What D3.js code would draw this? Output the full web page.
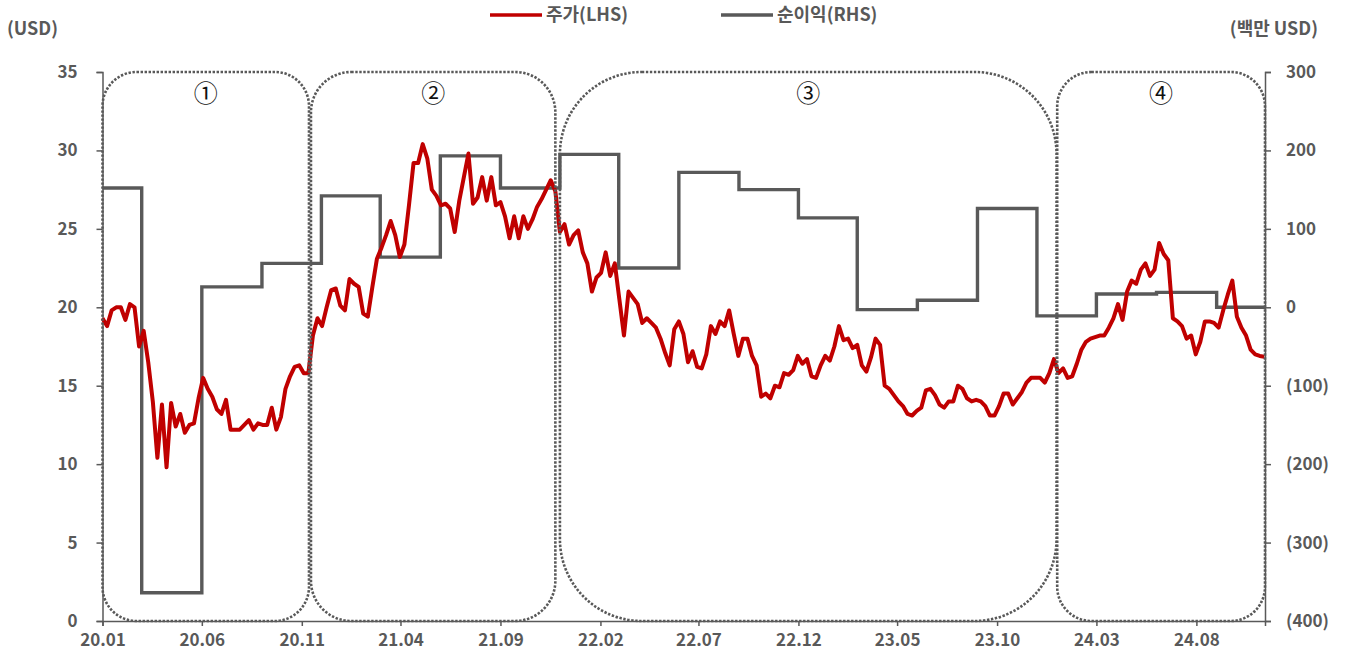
<!DOCTYPE html>
<html><head><meta charset="utf-8">
<script src="https://cdn.jsdelivr.net/npm/d3@7"></script>
<style>
body{margin:0;background:#fff;}
svg text{font-family:"Noto Sans CJK KR","Noto Sans",sans-serif;}
</style></head><body>
<svg id="chart" width="1352" height="659"></svg>
<script>
// ---- data ----
const priceStart = "2020-01-01";          // weekly closes (USD), one per 7 days
const weeklyPrice = [
19.3,18.8,19.8,20.0,20.0,19.2,20.2,20.0,17.5,18.5,
16.5,14.0,10.4,13.8,9.8,13.9,12.4,13.2,12.0,12.5,
12.6,14.2,15.5,14.8,14.3,13.5,13.2,14.1,12.2,12.2,
12.2,12.5,12.8,12.2,12.6,12.5,12.5,13.6,12.2,13.0,
14.8,15.6,16.2,16.3,15.8,15.8,18.2,19.3,18.8,20.0,
21.1,21.2,20.1,19.8,21.8,21.5,21.3,19.6,19.4,21.3,
23.1,23.8,24.6,25.5,24.6,23.2,24.0,26.5,29.2,29.2,
30.4,29.5,27.5,27.1,26.5,26.6,26.3,24.8,26.8,28.3,
29.8,26.6,27.0,28.3,26.8,28.3,26.5,26.7,25.8,
24.4,25.8,24.4,25.8,25.0,25.6,26.4,26.9,27.5,28.1,
27.4,24.8,25.3,24.0,24.6,24.9,23.5,22.8,21.0,21.9,
22.2,23.5,22.0,22.8,20.5,18.2,21.0,20.6,20.2,19.0,
19.3,19.0,18.7,18.0,17.1,16.3,18.6,19.1,18.3,16.5,
17.2,16.2,16.1,17.0,18.8,18.3,19.1,18.8,19.8,18.3,
16.9,18.0,18.0,16.9,16.3,14.3,14.5,14.2,15.0,14.9,
15.8,15.7,16.0,16.9,16.4,16.7,15.6,15.5,16.3,16.9,
16.6,17.5,18.8,17.9,18.0,17.4,17.6,16.3,15.9,16.8,
18.0,17.6,15.0,14.8,14.4,14.0,13.7,13.2,13.1,13.4,
13.6,14.7,14.8,14.4,13.8,13.6,14.0,14.0,15.0,14.8,
14.2,14.0,14.1,14.0,13.7,13.1,13.1,13.7,14.5,14.5,
13.8,14.2,14.6,15.2,15.5,15.5,15.5,15.2,15.8,16.7,
15.8,16.1,15.5,15.6,16.4,17.3,17.8,18.0,18.1,18.2,
18.2,18.7,19.3,20.2,19.2,21.0,21.7,21.5,22.4,22.8,
22.0,22.4,24.1,23.4,23.0,19.3,19.1,18.8,18.0,
18.2,17.0,17.8,19.1,19.1,19.0,18.7,19.8,20.8,21.7,
19.4,18.7,18.2,17.3,17.0,16.9,16.85
];
const profitDates  = ["2020-01-01","2020-03-01","2020-06-01","2020-09-01","2020-12-01",
                      "2021-03-01","2021-06-01","2021-09-01","2021-12-01","2022-03-01",
                      "2022-06-01","2022-09-01","2022-12-01","2023-03-01","2023-06-01",
                      "2023-09-01","2023-12-01","2024-03-01","2024-06-01","2024-09-01"];
const profitValues = [152,-364,26,56,142,64,193,152,195,50,172,150,114,-3,9,126,-11,17,19,0];
const xDomain = ["2020-01-01","2024-11-14"];
const xTickLabels = ["20.01","20.06","20.11","21.04","21.09","22.02","22.07","22.12","23.05","23.10","24.03","24.08"];
const leftTicks = [0,5,10,15,20,25,30,35];
const rightTicks = [-400,-300,-200,-100,0,100,200,300];
const periodStart = ["2020-01-01","2020-11-15","2021-12-01","2024-01-01"];
const periodEnd   = ["2020-11-12","2021-11-24","2023-12-31","2024-11-14"];
const periodLabel = ["①","②","③","④"];
const seriesNames = ["주가(LHS)","순이익(RHS)"];

// ---- layout ----
const L = 102.5, R = 1265, T = 72, B = 621;
const parse = d3.timeParse("%Y-%m-%d");
const svg = d3.select("#chart");
const red = "#C00000", gray = "#595959";

const x = d3.scaleTime().domain(xDomain.map(parse)).range([L, R]);
const yL = d3.scaleLinear().domain([0, 35]).range([B, T]);
const yR = d3.scaleLinear().domain([-400, 300]).range([B, T]);

const start = parse(priceStart);
const price = weeklyPrice.map((v, i) => ({d: d3.timeDay.offset(start, 7 * i), v}));
const profit = profitDates.map((s, i) => ({d: parse(s), v: profitValues[i]}));
profit.push({d: parse(xDomain[1]), v: profitValues[profitValues.length - 1]});

const fmtNeg = v => v < 0 ? "(" + Math.abs(v) + ")" : String(v);
const tickDates = xTickLabels.map(s => d3.timeParse("%y.%m")(s));

// axes
function styleAxis(g){
  g.select(".domain").attr("stroke", gray).attr("stroke-width", 1.5);
  g.selectAll(".tick line").attr("stroke", gray).attr("stroke-width", 1.5);
  g.selectAll("text").attr("fill", gray).attr("font-size", 17).attr("font-weight", 700)
    .style("font-family", '"Noto Sans CJK KR","Noto Sans",sans-serif');
}
svg.append("g").attr("transform", `translate(0,${B})`)
  .call(d3.axisBottom(x).tickValues(tickDates).tickFormat((d,i)=>xTickLabels[i]).tickSizeOuter(0).tickSize(5).tickPadding(8))
  .call(styleAxis);
svg.append("g").attr("transform", `translate(${L},0)`)
  .call(d3.axisLeft(yL).tickValues(leftTicks).tickSizeOuter(0).tickSize(6).tickPadding(19))
  .call(styleAxis);
svg.append("g").attr("transform", `translate(${R},0)`)
  .call(d3.axisRight(yR).tickValues(rightTicks).tickFormat(fmtNeg).tickSizeOuter(0).tickSize(6).tickPadding(15))
  .call(styleAxis);

// axis units
svg.append("text").attr("x", 7).attr("y", 35).text("(USD)")
  .attr("fill", gray).attr("font-size", 18).attr("font-weight", 700);
svg.append("text").attr("x", 1318).attr("y", 35).attr("text-anchor", "end").text("(백만 USD)")
  .attr("fill", gray).attr("font-size", 18).attr("font-weight", 700);

// profit step line
svg.append("path").datum(profit)
  .attr("fill", "none").attr("stroke", gray).attr("stroke-width", 3.4)
  .attr("d", d3.line().x(d => x(d.d)).y(d => yR(d.v)).curve(d3.curveStepAfter));

// price line
svg.append("path").datum(price)
  .attr("fill", "none").attr("stroke", red).attr("stroke-width", 4).attr("stroke-linejoin", "round")
  .attr("d", d3.line().x(d => x(d.d)).y(d => yL(d.v)));

// period boxes
periodStart.forEach((s, i) => {
  const x0 = x(parse(s)), x1 = x(parse(periodEnd[i]));
  const w = x1 - x0, h = B - T;
  const r = Math.min(w, h) * 0.165;
  svg.append("rect").attr("x", x0).attr("y", T).attr("width", w).attr("height", h)
    .attr("rx", r).attr("ry", r).attr("fill", "none")
    .attr("stroke", gray).attr("stroke-width", 2.6).attr("stroke-dasharray", "2.4 1.6");
  svg.append("text").attr("x", (x0 + x1) / 2).attr("y", 102).attr("text-anchor", "middle")
    .attr("font-size", 24).attr("font-weight", 400).attr("fill", "#111").text(periodLabel[i]);
});

// legend
const leg = [{c: red, x: 490}, {c: gray, x: 721}];
leg.forEach((o, i) => {
  svg.append("line").attr("x1", o.x).attr("x2", o.x + 52).attr("y1", 15).attr("y2", 15)
    .attr("stroke", o.c).attr("stroke-width", 3.5);
  svg.append("text").attr("x", o.x + 56).attr("y", 21).text(seriesNames[i])
    .attr("fill", gray).attr("font-size", 18).attr("font-weight", 700);
});
</script>
</body></html>
